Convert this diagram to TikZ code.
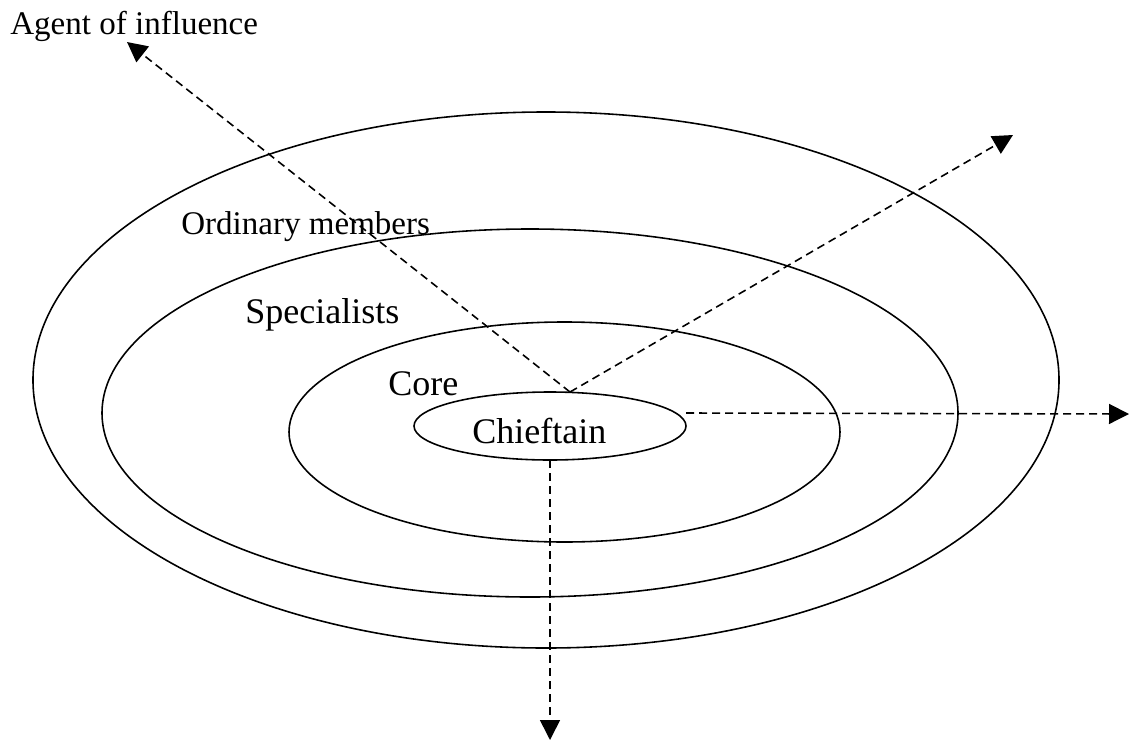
\documentclass[tikz,border=0pt]{standalone}
\usepackage{fontspec}
\setmainfont{Liberation Serif}
\usetikzlibrary{arrows.meta,shapes.geometric}
\tikzset{
  ring/.style={draw=black,ellipse,line width=.9pt,inner sep=0pt,outer sep=0pt},
  influence/.style={-{Triangle[length=4mm,width=4mm]},line width=.9pt,dash pattern=on 1.6mm off 1mm},
  biglabel/.style={font=\fontsize{20.5pt}{24pt}\selectfont,inner sep=0pt,anchor=base west},
  smalllabel/.style={font=\fontsize{18.8pt}{22pt}\selectfont,inner sep=0pt,anchor=base west},
}

\begin{document}
\begin{tikzpicture}[x=.2mm,y=-.2mm]
  \useasboundingbox (0,0) rectangle (1129,740);
  % rings, outside in
  \foreach \nm/\cx/\cy/\ww/\hh in {members/546/380/205.2/107.2,specialists/530/413/171.2/73.6,core/564.5/432/110.2/44,chief/550/426/54.4/13.6}{
    \node[ring,minimum width=\ww mm,minimum height=\hh mm] (\nm) at (\cx,\cy) {};
  }
  \node[smalllabel] (agentlab) at (10,35) {Agent of influence};
  \node[smalllabel] (memberlab) at (181,234) {Ordinary members};
  \node[biglabel] (speclab) at (245,323) {Specialists};
  \node[biglabel] (corelab) at (388,395) {Core};
  \node[biglabel] (chieflab) at (472,443) {Chieftain};
  % lines of influence
  \coordinate (apex) at (570,392);
  \coordinate (agent) at (127,42);
  \coordinate (upper) at (1013,135);
  \coordinate (rightend) at (1129,414);
  \coordinate (downend) at (550,740);
  \draw[influence] (apex) -- (agent);
  \draw[influence] (apex) -- (upper);
  \draw[influence] ([yshift=2.6mm]chief.east) -- (rightend);
  \draw[influence] (chief.south) -- (downend);
\end{tikzpicture}
\end{document}
